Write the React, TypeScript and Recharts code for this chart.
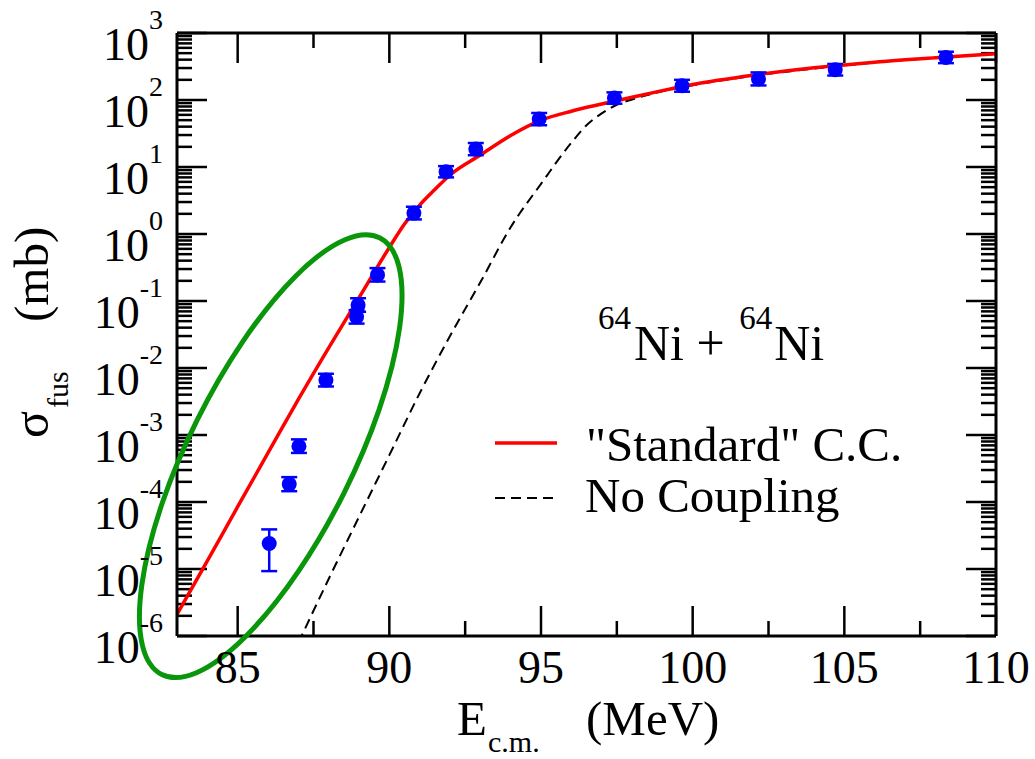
import React from 'react';
import {
  ComposedChart, Line, Scatter, XAxis, YAxis, ErrorBar, ReferenceDot, ReferenceLine,
} from 'recharts';

// ---- data ----
const expE = [86.04, 86.70, 87.02, 87.91, 88.92, 88.97, 89.61, 90.81, 91.87, 92.85, 94.94, 97.42, 99.65, 102.17, 104.70, 108.35];
const expSigma = [2.4e-5, 1.85e-4, 6.8e-4, 6.6e-3, 0.058, 0.087, 0.245, 2.05, 8.5, 18.5, 52, 107, 163, 206, 283, 432];
const expLow = [9.3e-6, 1.45e-4, 5.4e-4, 5.3e-3, 0.046, 0.069, 0.195, 1.65, 7.0, 15.0, 42, 88, 133, 165, 232, 355];
const expHigh = [3.9e-5, 2.35e-4, 8.6e-4, 8.2e-3, 0.073, 0.11, 0.31, 2.55, 10.3, 22.8, 64, 130, 200, 258, 345, 525];

const ccE = [83, 84, 85, 86, 87, 88, 89, 90, 90.5, 91, 91.5, 92, 93, 94, 95, 96, 97, 98, 99, 100, 102, 104, 106, 108, 110];
const ccSigma = [2.1e-6, 1.32e-5, 8.5e-5, 5.4e-4, 3.4e-3, 0.020, 0.112, 0.63, 1.41, 2.7, 4.6, 7.6, 15.1, 29.5, 50, 68, 87, 110, 138, 170, 234, 302, 367, 427, 490];

const ncE = [87, 88, 89, 90, 91, 92, 93, 94, 95, 96, 96.5, 97, 97.5, 98, 99, 100, 102, 104, 106, 108, 110];
const ncSigma = [7.9e-7, 7.1e-6, 6.0e-5, 5.0e-4, 4.2e-3, 0.030, 0.19, 1.26, 5.6, 23, 42, 63, 85, 102, 135, 166, 229, 295, 363, 427, 490];

const xMajorTicks = [85, 90, 95, 100, 105, 110];
const xMinorTicks = [87.5, 92.5, 97.5, 102.5, 107.5];
const yMajorTicks = [1e-6, 1e-5, 1e-4, 1e-3, 1e-2, 1e-1, 1, 10, 100, 1000];
const yMinorTicks: number[] = [];
for (let d = 0; d < yMajorTicks.length - 1; d++) {
  for (let m = 2; m <= 9; m++) yMinorTicks.push(Number((yMajorTicks[d] * m).toPrecision(3)));
}
const xAllTicks = [...xMajorTicks, ...xMinorTicks].sort((a, b) => a - b);
const yAllTicks = [...yMajorTicks, ...yMinorTicks].sort((a, b) => a - b);

const X_MIN = 83;
const X_MAX = 110;
const Y_MIN = 1e-6;
const Y_MAX = 1e3;

const ellipseCenter = { x: 86.09, y: 4.83e-4 };

const expData = expE.map((x, i) => ({ x, y: expSigma[i], err: [expSigma[i] - expLow[i], expHigh[i] - expSigma[i]] }));
const ccData = ccE.map((x, i) => ({ x, y: ccSigma[i] }));
const ncData = ncE.map((x, i) => ({ x, y: ncSigma[i] }));

// ---- layout ----
const W = 1035;
const H = 759;
const MARGIN = { top: 33, right: 39, bottom: 122, left: 176 };
const PLOT_LEFT = MARGIN.left + 1; // + y-axis width
const PLOT_RIGHT = W - MARGIN.right;
const PLOT_TOP = MARGIN.top;
const PLOT_BOTTOM = H - MARGIN.bottom - 1; // - x-axis height
const X_LABEL_GAP = 47;
const Y_LABEL_GAP = 14;
const MAJOR = 30;
const MINOR = 15;

// frame tick positions (same mapping as the chart's axes)
const tickX = (v: number) => PLOT_LEFT + ((v - X_MIN) / (X_MAX - X_MIN)) * (PLOT_RIGHT - PLOT_LEFT);
const tickY = (v: number) =>
  PLOT_BOTTOM - ((Math.log10(v) - Math.log10(Y_MIN)) / (Math.log10(Y_MAX) - Math.log10(Y_MIN))) * (PLOT_BOTTOM - PLOT_TOP);

const FONT = '"Liberation Serif", "Times New Roman", serif';

const isMajorX = (v: number) => xMajorTicks.includes(v);
const isMajorY = (v: number) => yMajorTicks.some((m) => Math.abs(m - v) / m < 1e-6);

const XTick = (props: any) => {
  const v = props.payload.value;
  if (!isMajorX(v)) return <g />;
  return (
    <text x={props.x} y={props.y} textAnchor="middle" fontFamily={FONT} fontSize={46} fill="#000">{v}</text>
  );
};

const YTick = (props: any) => {
  const v = props.payload.value;
  if (!isMajorY(v)) return <g />;
  const e = Math.round(Math.log10(v));
  return (
    <text x={props.x} y={props.y + 27} textAnchor="end" fontFamily={FONT} fill="#000">
      <tspan fontSize={46}>10</tspan>
      <tspan fontSize={28} dy={-31}>{String(e)}</tspan>
    </text>
  );
};

const EllipseShape = (props: any) => (
  <ellipse
    cx={props.cx}
    cy={props.cy}
    rx={244}
    ry={82}
    fill="none"
    stroke="#0a960a"
    strokeWidth={5}
    transform={`rotate(-63.5 ${props.cx} ${props.cy})`}
  />
);

const Dot = (props: any) => <circle cx={props.cx} cy={props.cy} r={7.5} fill="#0000ff" />;

const dom: [number, number] = [X_MIN, X_MAX];
const ydom: [number, number] = [Y_MIN, Y_MAX];

const frameStyle = { stroke: '#000', strokeWidth: 3, strokeOpacity: 1, ifOverflow: 'visible' as const };

const tickLineEls: React.ReactElement[] = [];
xAllTicks.forEach((v) => {
  const len = isMajorX(v) ? MAJOR : MINOR;
  const x = tickX(v);
  tickLineEls.push(<line key={`b${v}`} x1={x} y1={PLOT_BOTTOM} x2={x} y2={PLOT_BOTTOM - len} stroke="#000" strokeWidth={2.5} />);
  tickLineEls.push(<line key={`t${v}`} x1={x} y1={PLOT_TOP} x2={x} y2={PLOT_TOP + len} stroke="#000" strokeWidth={2.5} />);
});
yAllTicks.forEach((v) => {
  const len = isMajorY(v) ? MAJOR : MINOR;
  const y = tickY(v);
  tickLineEls.push(<line key={`l${v}`} x1={PLOT_LEFT} y1={y} x2={PLOT_LEFT + len} y2={y} stroke="#000" strokeWidth={2.5} />);
  tickLineEls.push(<line key={`r${v}`} x1={PLOT_RIGHT} y1={y} x2={PLOT_RIGHT - len} y2={y} stroke="#000" strokeWidth={2.5} />);
});

export default function App() {
  return (
    <div style={{ position: 'absolute', left: 0, top: 0, background: '#fff' }}>
      <ComposedChart width={W} height={H} margin={MARGIN}>
        <XAxis xAxisId="x" dataKey="x" type="number" domain={dom} allowDataOverflow ticks={xAllTicks}
          interval={0} height={1} tickSize={0} tickMargin={X_LABEL_GAP} axisLine={false}
          tickLine={false} tick={XTick} />
        <YAxis yAxisId="yl" dataKey="y" type="number" scale="log" domain={ydom} allowDataOverflow ticks={yAllTicks}
          interval={0} width={1} tickSize={0} tickMargin={Y_LABEL_GAP} axisLine={false}
          tickLine={false} tick={YTick} />

        <Line xAxisId="x" yAxisId="yl" data={ncData} dataKey="y" type="monotone" stroke="#000" strokeWidth={2}
          strokeDasharray="10 6" dot={false} isAnimationActive={false} />
        <Line xAxisId="x" yAxisId="yl" data={ccData} dataKey="y" type="monotone" stroke="#ff0000" strokeWidth={3.5}
          dot={false} isAnimationActive={false} />
        <Scatter xAxisId="x" yAxisId="yl" data={expData} dataKey="y" fill="#0000ff" shape={Dot} isAnimationActive={false}>
          <ErrorBar dataKey="err" direction="y" width={8} stroke="#0000ff" strokeWidth={2.5} />
        </Scatter>

        <ReferenceLine xAxisId="x" yAxisId="yl" x={X_MIN} {...frameStyle} />
        <ReferenceLine xAxisId="x" yAxisId="yl" x={X_MAX} {...frameStyle} />
        <ReferenceLine xAxisId="x" yAxisId="yl" y={Y_MIN} {...frameStyle} />
        <ReferenceLine xAxisId="x" yAxisId="yl" y={Y_MAX} {...frameStyle} />

        {tickLineEls}

        <ReferenceDot xAxisId="x" yAxisId="yl" x={ellipseCenter.x} y={ellipseCenter.y} shape={EllipseShape} ifOverflow="visible" />

        {/* annotation */}
        <text x={598} y={360} fontFamily={FONT} fontSize={50} fill="#000">
          <tspan fontSize={33} dy={-31}>64</tspan>
          <tspan dy={31} dx={3}>Ni + </tspan>
          <tspan fontSize={33} dy={-31} dx={2}>64</tspan>
          <tspan dy={31} dx={2}>Ni</tspan>
        </text>

        {/* legend */}
        <line x1={495} y1={443} x2={557} y2={443} stroke="#ff0000" strokeWidth={3.5} />
        <text x={586} y={461} fontFamily={FONT} fontSize={49} fill="#000">"Standard" C.C.</text>
        <line x1={495} y1={498} x2={557} y2={498} stroke="#000" strokeWidth={2} strokeDasharray="10 6" />
        <text x={585} y={512} fontFamily={FONT} fontSize={49} fill="#000">No Coupling</text>

        {/* axis labels */}
        <text x={457} y={735} fontFamily={FONT} fontSize={49} fill="#000">E</text>
        <text x={488} y={752} fontFamily={FONT} fontSize={30} fill="#000">c.m.</text>
        <text x={586} y={735} fontFamily={FONT} fontSize={49} fill="#000">(MeV)</text>

        <text transform="translate(48,438) rotate(-90)" fontFamily={FONT} fontSize={50} fill="#000">σ</text>
        <text transform="translate(68,408) rotate(-90)" fontFamily={FONT} fontSize={30} fill="#000">fus</text>
        <text transform="translate(48,322) rotate(-90)" fontFamily={FONT} fontSize={49} fill="#000">(mb)</text>
      </ComposedChart>
    </div>
  );
}
